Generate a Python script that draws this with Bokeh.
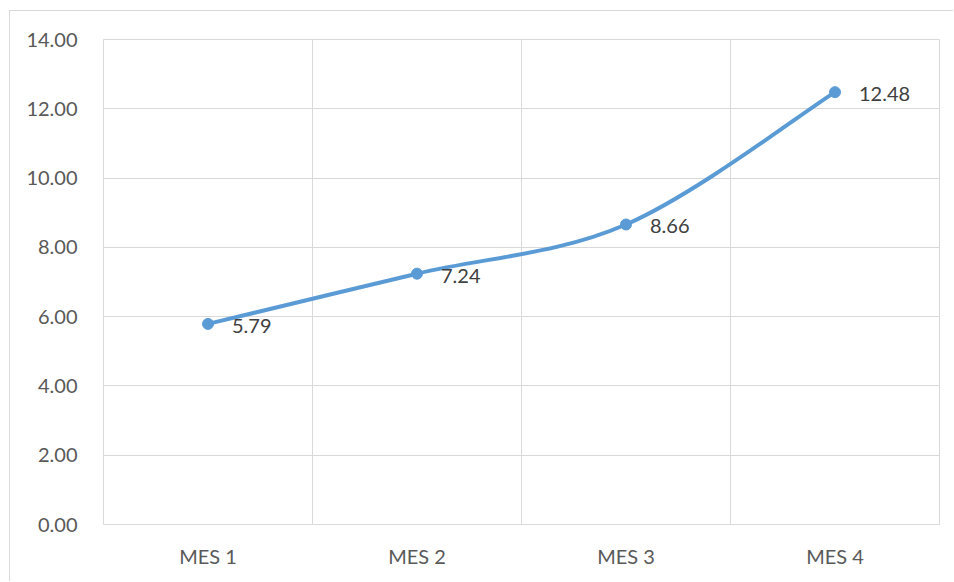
from bokeh.plotting import figure
from bokeh.models import FixedTicker, Grid, ColumnDataSource, NumeralTickFormatter
from bokeh.core.properties import value
from bokeh.embed import file_html
from bokeh.resources import INLINE

months = ["MES 1", "MES 2", "MES 3", "MES 4"]
values = [5.79, 7.24, 8.66, 12.48]
y_ticks = [0, 2, 4, 6, 8, 10, 12, 14]

FONT = "Lato"
TXT = "#595959"
GRID = "#d9d9d9"
BLUE = "#5B9BD5"

xs = [i + 0.5 for i in range(len(months))]

p = figure(width=944, height=571, output_backend="svg", toolbar_location=None,
           x_range=(0, len(months)), y_range=(0, 14),
           min_border_left=93, min_border_right=15, min_border_top=28, min_border_bottom=58,
           styles={"position": "absolute", "left": "9px", "top": "10px",
                   "border-left": "1px solid #d9d9d9", "border-top": "1px solid #d9d9d9"})
p.outline_line_color = GRID
p.background_fill_color = "white"
p.border_fill_color = "white"

# axes
p.xaxis.ticker = FixedTicker(ticks=xs)
p.xaxis.major_label_overrides = {x: m for x, m in zip(xs, months)}
p.yaxis.ticker = FixedTicker(ticks=y_ticks)
p.yaxis.formatter = NumeralTickFormatter(format="0.00")
for ax in (p.xaxis[0], p.yaxis[0]):
    ax.axis_line_color = None
    ax.major_tick_line_color = None
    ax.minor_tick_line_color = None
    ax.major_label_text_font = FONT
    ax.major_label_text_font_size = "20px"
    ax.major_label_text_color = TXT
p.yaxis.major_label_standoff = 20
p.xaxis.major_label_standoff = 13

p.xgrid.visible = False
p.ygrid.grid_line_color = GRID
p.ygrid.ticker = FixedTicker(ticks=y_ticks)
vgrid = Grid(dimension=0, ticker=FixedTicker(ticks=list(range(len(months) + 1))), grid_line_color=GRID)
p.add_layout(vgrid)

# smooth (Catmull-Rom) curve through the points
pts = list(zip(xs, values))
x0s, y0s, x1s, y1s, cx0, cy0, cx1, cy1 = [], [], [], [], [], [], [], []
n = len(pts)
for i in range(n - 1):
    pm = pts[i - 1] if i > 0 else pts[i]
    p0 = pts[i]
    p1 = pts[i + 1]
    p2 = pts[i + 2] if i + 2 < n else pts[i + 1]
    x0s.append(p0[0]); y0s.append(p0[1])
    x1s.append(p1[0]); y1s.append(p1[1])
    cx0.append(p0[0] + (p1[0] - pm[0]) / 6); cy0.append(p0[1] + (p1[1] - pm[1]) / 6)
    cx1.append(p1[0] - (p2[0] - p0[0]) / 6); cy1.append(p1[1] - (p2[1] - p0[1]) / 6)
p.bezier(x0=x0s, y0=y0s, x1=x1s, y1=y1s, cx0=cx0, cy0=cy0, cx1=cx1, cy1=cy1,
         line_color=BLUE, line_width=4)

src = ColumnDataSource(dict(x=xs, y=values, lab=[f"{v:.2f}" for v in values]))
p.scatter("x", "y", source=src, size=11, fill_color=BLUE, line_color=BLUE)
p.text("x", "y", text="lab", source=src, x_offset=24, y_offset=2,
       text_font=value(FONT), text_font_size="20px", text_color="#404040",
       text_baseline="middle", text_align="left")

open("out.html", "w").write(file_html(p, INLINE))
